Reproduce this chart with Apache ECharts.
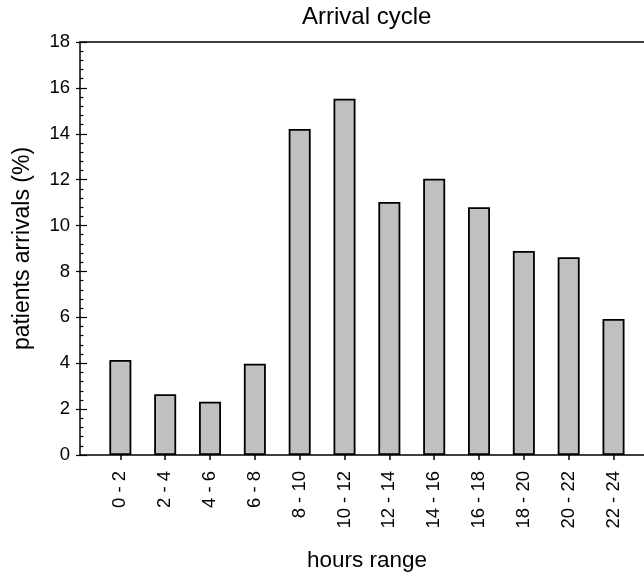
<!DOCTYPE html>
<html>
<head>
<meta charset="utf-8">
<script src="https://cdn.jsdelivr.net/npm/echarts@6/dist/echarts.min.js"></script>
<style>
  html, body { margin: 0; padding: 0; background: #fff; }
  #chart { width: 644px; height: 577px; }
</style>
</head>
<body>
<div id="chart"></div>
<script>
// hours ranges and share of arrivals (%)
var hourRanges = ['0 - 2', '2 - 4', '4 - 6', '6 - 8', '8 - 10', '10 - 12',
                  '12 - 14', '14 - 16', '16 - 18', '18 - 20', '20 - 22', '22 - 24'];
var arrivals = [4.14, 2.65, 2.32, 3.98, 14.21, 15.53, 11.03, 12.04, 10.80, 8.89, 8.62, 5.93];
var yTicks = [0, 2, 4, 6, 8, 10, 12, 14, 16, 18];

var FONT = 'Liberation Sans';
var positions = hourRanges.map(function (h, i) { return i; });
var barData = arrivals.map(function (v, i) { return [i, v]; });

// plot is cut by the right edge of the picture
var X_MIN = -0.9, X_MAX = 11.68;

var chart = echarts.init(document.getElementById('chart'));
chart.setOption({
  backgroundColor: '#fff',
  animation: false,
  textStyle: { fontFamily: FONT, color: '#000' },
  title: {
    text: 'Arrival cycle',
    left: 302,
    top: 5,
    padding: 0,
    textStyle: { fontFamily: FONT, fontSize: 24, fontWeight: 'normal', color: '#000' }
  },
  grid: { left: 80, top: 42, right: 0, height: 413, containLabel: false },
  xAxis: [{
    type: 'value',
    min: X_MIN,
    max: X_MAX,
    name: 'hours range',
    nameLocation: 'middle',
    nameGap: 94,
    nameTextStyle: { fontFamily: FONT, fontSize: 22.5, color: '#000', padding: [0, 0, 0, 10] },
    splitLine: { show: false },
    axisLine: { show: true, onZero: false, lineStyle: { color: '#000', width: 1.5 } },
    axisTick: { show: true, customValues: positions, length: 5, inside: false,
                lineStyle: { color: '#000', width: 1.5 } },
    axisLabel: {
      customValues: positions,
      rotate: 90,
      margin: 16,
      fontFamily: FONT, fontSize: 18.5, color: '#000',
      formatter: function (v) { return hourRanges[Math.round(v)]; }
    }
  }, {
    type: 'value',
    position: 'top',
    min: X_MIN,
    max: X_MAX,
    splitLine: { show: false },
    axisLine: { show: true, onZero: false, lineStyle: { color: '#000', width: 1.5 } },
    axisTick: { show: false },
    axisLabel: { show: false }
  }],
  yAxis: [{
    type: 'value',
    min: 0,
    max: 18,
    interval: 2,
    name: 'patients arrivals (%)',
    nameLocation: 'middle',
    nameGap: 46,
    nameTextStyle: { fontFamily: FONT, fontSize: 23, color: '#000' },
    splitLine: { show: false },
    axisLine: { show: true, onZero: false, lineStyle: { color: '#000', width: 1.5 } },
    axisTick: { show: true, inside: true, length: 7, lineStyle: { color: '#000', width: 1.2 } },
    minorTick: { show: true, splitNumber: 5, length: 3.5, lineStyle: { color: '#000', width: 1.2 } },
    axisLabel: {
      margin: 10, fontFamily: FONT, fontSize: 18.5, color: '#000',
      customValues: yTicks
    }
  }, {
    // outer half of the major ticks
    type: 'value',
    position: 'left',
    min: 0,
    max: 18,
    interval: 2,
    splitLine: { show: false },
    axisLine: { show: false, onZero: false },
    axisTick: { show: true, inside: false, length: 4, lineStyle: { color: '#000', width: 1.2 } },
    axisLabel: { show: false }
  }],
  series: [{
    type: 'bar',
    xAxisIndex: 0,
    yAxisIndex: 0,
    data: barData,
    barWidth: 22,
    itemStyle: { color: '#c0c0c0', borderColor: '#000', borderWidth: 1.8 }
  }]
});
</script>
</body>
</html>
